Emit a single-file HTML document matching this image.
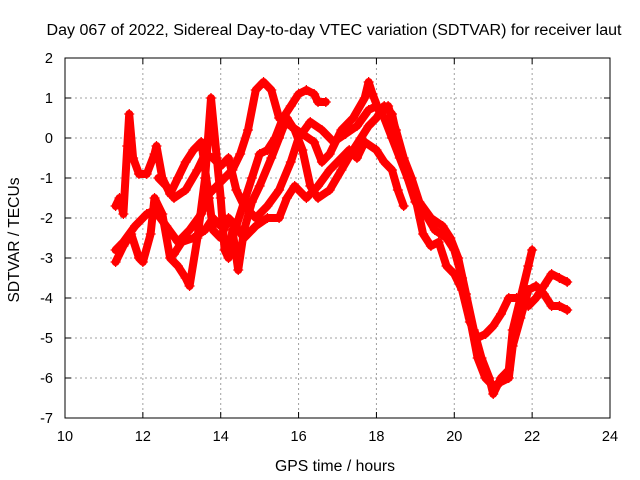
<!DOCTYPE html>
<html><head><meta charset="utf-8"><style>
body{margin:0;background:#fff}
svg{display:block;font-family:"Liberation Sans",sans-serif}
</style></head><body>
<svg id="chart" width="640" height="480">
<rect width="640" height="480" fill="#fff"/>
<text x="334" y="35" font-size="15.5" text-anchor="middle" textLength="575" lengthAdjust="spacingAndGlyphs">Day 067 of 2022, Sidereal Day-to-day VTEC variation (SDTVAR) for receiver laut</text>
<text x="335" y="471" font-size="15.5" text-anchor="middle" textLength="120" lengthAdjust="spacingAndGlyphs">GPS time / hours</text>
<text transform="translate(19,240) rotate(-90)" font-size="15.5" text-anchor="middle" textLength="125" lengthAdjust="spacingAndGlyphs">SDTVAR / TECUs</text>
<g id="grid"></g>
<g id="ticks"></g>
<g id="series"></g>
<rect x="65" y="58" width="545" height="360" fill="none" stroke="#000" stroke-width="1"/>
</svg>
<script>
const xTicks=[10,12,14,16,18,20,22,24];
const yTicks=[2,1,0,-1,-2,-3,-4,-5,-6,-7];
const track1=[[11.3,-1.7],[11.4,-1.5],[11.5,-1.9],[11.6,-0.2],[11.65,0.6],[11.75,-0.5],[11.9,-0.9],[12.1,-0.9],[12.3,-0.4],[12.35,-0.2],[12.5,-1.0],[12.7,-1.4],[12.9,-1.0],[13.1,-0.6],[13.3,-0.3],[13.5,-0.1],[13.7,-1.5],[13.8,-2.3],[14.0,-2.5],[14.2,-2.0],[14.4,-2.2],[14.6,-1.6],[14.8,-1.0],[15.0,-0.4],[15.2,-0.3],[15.4,0.0],[15.6,0.5],[15.8,0.8],[16.0,1.1],[16.2,1.2],[16.4,1.1],[16.5,0.9],[16.7,0.9]];
const track2=[[11.3,-2.8],[11.5,-2.6],[11.8,-2.2],[12.1,-1.9],[12.3,-1.8],[12.6,-2.2],[12.9,-2.6],[13.2,-2.3],[13.5,-1.9],[13.7,-1.4],[13.9,-1.2],[14.1,-1.0],[14.3,-0.8],[14.5,-0.4],[14.7,0.2],[14.9,1.2],[15.1,1.4],[15.3,1.2],[15.5,0.5],[15.8,0.3],[16.1,0.1],[16.4,-0.1],[16.6,-0.6],[16.8,-0.4],[17.1,0.2],[17.4,0.5],[17.7,1.0],[17.8,1.4],[17.9,1.1],[18.1,0.6],[18.3,0.8],[18.5,0.2],[18.7,-0.5],[18.9,-1.0],[19.1,-1.6],[19.4,-2.0],[19.7,-2.2],[19.9,-2.5],[20.1,-3.0],[20.3,-3.9],[20.5,-4.8],[20.7,-5.5],[20.9,-6.0],[21.0,-6.4],[21.2,-6.0],[21.4,-5.8],[21.5,-4.8],[21.7,-4.0],[21.9,-3.2],[22.0,-2.8]];
const track3=[[11.3,-3.1],[11.5,-2.7],[11.7,-2.4],[11.9,-3.0],[12.0,-3.1],[12.2,-2.4],[12.3,-1.5],[12.5,-1.9],[12.7,-3.0],[12.9,-3.2],[13.1,-3.5],[13.2,-3.7],[13.4,-2.5],[13.6,-1.0],[13.75,1.0],[13.9,-0.5],[14.0,-1.5],[14.1,-2.8],[14.2,-3.0],[14.3,-2.3],[14.45,-3.3],[14.6,-2.3],[14.8,-1.6],[15.0,-1.2],[15.3,-0.5],[15.5,0.0],[15.7,0.5],[15.9,0.2],[16.1,-0.3],[16.3,-1.2],[16.5,-1.5],[16.8,-1.3],[17.1,-0.8],[17.4,-0.3],[17.6,0.0],[17.8,0.3],[18.0,0.5],[18.2,0.8],[18.4,0.6],[18.6,-0.3],[18.8,-1.0],[19.0,-1.5],[19.2,-2.4],[19.4,-2.7],[19.6,-2.6],[19.8,-3.2],[20.0,-3.4],[20.2,-3.8],[20.4,-4.6],[20.6,-5.0],[20.8,-4.9],[21.0,-4.7],[21.2,-4.4],[21.4,-4.0],[21.6,-4.0],[21.9,-4.2],[22.1,-4.0],[22.3,-3.7],[22.5,-3.4],[22.7,-3.5],[22.9,-3.6]];
const track4=[[12.8,-2.9],[13.0,-2.6],[13.3,-2.5],[13.6,-2.3],[13.8,-2.0],[14.0,-2.2],[14.3,-2.1],[14.6,-2.5],[14.9,-2.2],[15.2,-2.0],[15.5,-2.0],[15.7,-1.5],[15.9,-1.2],[16.2,-1.5],[16.5,-1.2],[16.8,-0.8],[17.0,-0.6],[17.3,-0.3],[17.5,-0.5],[17.7,-0.1],[18.0,-0.3],[18.2,-0.6],[18.4,-0.8],[18.55,-1.3],[18.7,-1.7]];
const track5=[[12.4,-1.0],[12.6,-1.2],[12.8,-1.5],[13.1,-1.3],[13.4,-0.8],[13.6,-0.4],[13.8,-0.5],[14.0,-0.7],[14.2,-0.5],[14.4,-1.3],[14.6,-1.7],[14.9,-2.0],[15.2,-1.7],[15.5,-1.3],[15.8,-0.6],[16.0,0.0],[16.3,0.4],[16.6,0.2],[16.9,-0.1],[17.2,0.1],[17.5,0.3],[17.8,0.7],[18.0,0.8],[18.2,0.5],[18.4,0.0],[18.6,-0.5],[18.8,-1.0],[19.0,-1.6],[19.2,-1.8],[19.5,-2.3],[19.8,-2.5],[20.0,-2.8],[20.2,-3.5],[20.4,-4.5],[20.6,-5.5],[20.8,-6.0],[21.0,-6.2],[21.2,-6.1],[21.4,-6.0],[21.5,-5.2],[21.7,-4.5],[21.9,-3.8],[22.1,-3.7],[22.3,-3.9],[22.5,-4.2],[22.7,-4.2],[22.9,-4.3]];
const tracks=[track1,track2,track3,track4,track5];

const NS="http://www.w3.org/2000/svg";
const X0=65,X1=610,Y0=418,Y1=58;
function xs(h){return X0+(h-10)/(24-10)*(X1-X0);}
function ys(v){return Y0-(v-(-7))/(2-(-7))*(Y0-Y1);}
function mk(tag,attrs,parent){const e=document.createElementNS(NS,tag);for(const k in attrs)e.setAttribute(k,attrs[k]);parent.appendChild(e);return e;}
const grid=document.getElementById('grid'),ticks=document.getElementById('ticks'),ser=document.getElementById('series');
xTicks.forEach(t=>{
  const x=xs(t);
  if(t>10&&t<24){const g=mk('line',{x1:x,x2:x,y1:Y1,y2:Y0,stroke:'#a0a0a0','stroke-dasharray':'2,3'},grid);
  
  }
  mk('line',{x1:x,x2:x,y1:Y0,y2:Y0-6,stroke:'#000'},ticks);
  mk('line',{x1:x,x2:x,y1:Y1,y2:Y1+6,stroke:'#000'},ticks);
  const l=mk('text',{x:x,y:Y0+23,'font-size':14.5,'text-anchor':'middle'},ticks);l.textContent=t;
  
  
});
yTicks.forEach(t=>{
  const y=ys(t);
  if(t<2&&t>-7){const g=mk('line',{x1:X0,x2:X1,y1:y,y2:y,stroke:'#a0a0a0','stroke-dasharray':'2,3'},grid);
  
  }
  mk('line',{x1:X0,x2:X0+6,y1:y,y2:y,stroke:'#000'},ticks);
  mk('line',{x1:X1,x2:X1-6,y1:y,y2:y,stroke:'#000'},ticks);
  const l=mk('text',{x:X0-12,y:y+5,'font-size':14.5,'text-anchor':'end'},ticks);l.textContent=t;
  
  
});
tracks.forEach((tr,i)=>{
  const g=mk('g',{},ser);
  
  
  const pts=tr.map(p=>xs(p[0]).toFixed(1)+','+ys(p[1]).toFixed(1)).join(' ');
  mk('polyline',{points:pts,fill:'none',stroke:'#ff0000','stroke-width':8,'stroke-linejoin':'round','stroke-linecap':'round'},g);
  let d='';
  tr.forEach(p=>{const x=xs(p[0]),y=ys(p[1]);d+=`M${x-5},${y}h10M${x},${y-5}v10`;});
  mk('path',{d:d,stroke:'#ff0000','stroke-width':1.3,fill:'none'},g);
});
</script>
</body></html>
